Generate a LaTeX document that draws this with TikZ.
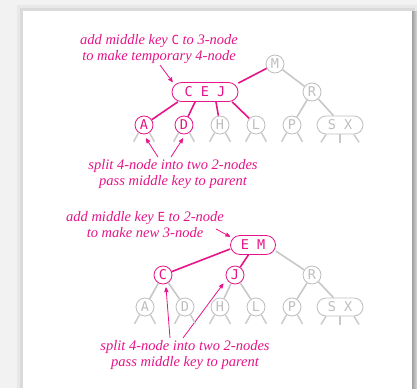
\documentclass[tikz,border=0pt]{standalone}
\usepackage{fontspec}
\newfontfamily\keyfont{DejaVu Sans Mono}
\newfontfamily\notefont{Liberation Serif}
\usetikzlibrary{shapes}
\usetikzlibrary{arrows}
\usetikzlibrary{calc}
\definecolor{keypink}{RGB}{230,20,135}
\definecolor{keygray}{RGB}{190,190,190}
\definecolor{linegray}{RGB}{200,200,200}
\definecolor{bggray}{RGB}{242,242,242}
\tikzset{
	key/.style = {align=center, inner sep=0pt, text centered, fill=white,
		font=\keyfont\fontsize{13.5}{14}\selectfont},
	key_p/.style = {key, circle, keypink, fill=white, draw=keypink,
		minimum size=18pt, thick},% 2-node, rose
	key_g/.style = {key, circle, keygray, fill=white, draw=keygray,
		minimum size=18pt, thick},% 2-node, gris
	keys_p/.style = {key, rectangle, rounded corners=9.5pt, keypink, fill=white,
		draw=keypink, minimum height=19pt, thick},% 3-node / 4-node, rose
	keys_g/.style = {key, rectangle, rounded corners=9pt, keygray, fill=white,
		draw=keygray, minimum height=18pt, minimum width=46pt, thick},% 3-node, gris
	link_p/.style = {draw=keypink, line width=1.6pt},
	link_g/.style = {draw=linegray, line width=1.6pt},
	stub/.style = {draw=linegray, line width=1.4pt},
	note/.style = {align=center, keypink, font=\notefont\itshape\fontsize{14.5}{16}\selectfont},
	note_arr/.style = {->, >=stealth', draw=keypink, line width=0.8pt}
}
\newcommand{\kk}[1]{{\keyfont\upshape\fontsize{12.5}{16}\selectfont #1}}

\begin{document}
\begin{tikzpicture}[x=1pt,y=-1pt]
	\useasboundingbox (0,0) rectangle (417,388);
	% page
	\fill[bggray] (0,0) rectangle (417,388);
	\fill[black, opacity=0.04] (17,5) rectangle (417,388);
	\fill[black, opacity=0.06] (20,8) rectangle (415,388);
	\fill[white] (23,11) rectangle (412,388);
	\shade[left color=gray!75, right color=gray!30] (412,11) rectangle (417,388);

	% insert C into the 3-node
	\node [key_g] (m) at (275,64) {M};
	\node [keys_p, minimum width=66pt] (cej) at (205,92) {C E J};
	\node [key_g] (r) at (312,92) {R};
	\node [key_p] (a) at (144,125) {A};
	\node [key_p] (d) at (184,125) {D};
	\node [key_g] (h) at (220,125) {H};
	\node [key_g] (l) at (256,125) {L};
	\node [key_g] (p) at (292,125) {P};
	\node [keys_g] (sx) at (340,125) {S X};

	\draw [link_p] (m) -- (cej.15);
	\draw [link_g] (m) -- (r);
	\draw [link_g] (r) -- (p);
	\draw [link_g] (r) -- (sx.125);
	\draw [link_p] (cej.200) -- (a);
	\draw [link_p] (cej.225) -- (d);
	\draw [link_p] (cej.318) -- (h);
	\draw [link_p] (cej.340) -- (l);

	\node [note] (addC) at (159,49) {add middle key \kk{C} to 3-node\\to make temporary 4-node};
	\node [note] (split1) at (173,174) {split 4-node into two 2-nodes\\pass middle key to parent};
	\coordinate (c_tail) at (160,65);
	\coordinate (a_tail) at (158,157);
	\coordinate (d_tail) at (171,157);
	\draw [note_arr] (c_tail) -- (cej.163);
	\draw [note_arr] (a_tail) -- ($(a.south)+(2,4)$);
	\draw [note_arr] (d_tail) -- ($(d.south)+(-1,4)$);

	% E goes up into the 2-node
	\node [keys_p, minimum width=45pt] (em) at (253,245) {E M};
	\node [key_p] (c) at (163,275) {C};
	\node [key_p] (j) at (235,275) {J};
	\node [key_g] (r2) at (312,275) {R};
	\node [key_g] (a2) at (145,307) {A};
	\node [key_g] (d2) at (185,307) {D};
	\node [key_g] (h2) at (220,307) {H};
	\node [key_g] (l2) at (256,307) {L};
	\node [key_g] (p2) at (292,307) {P};
	\node [keys_g] (sx2) at (340,307) {S X};

	\draw [link_p] (em.190) -- (c);
	\draw [link_p] (em.245) -- (j);
	\draw [link_g] (em.345) -- (r2);
	\draw [link_g] (c) -- (a2);
	\draw [link_g] (c) -- (d2);
	\draw [link_g] (j) -- (h2);
	\draw [link_g] (j) -- (l2);
	\draw [link_g] (r2) -- (p2);
	\draw [link_g] (r2) -- (sx2.125);

	\node [note] (addE) at (145,224.5) {add middle key \kk{E} to 2-node\\to make new 3-node};
	\node [note] (split2) at (185,355.5) {split 4-node into two 2-nodes\\pass middle key to parent};
	\coordinate (e_tail) at (216,229);
	\coordinate (c2_tail) at (170,338);
	\coordinate (j2_tail) at (183,338);
	\draw [note_arr] (e_tail) -- (em.160);
	\draw [note_arr] (c2_tail) -- ($(c.south)+(3,3)$);
	\draw [note_arr] (j2_tail) -- ($(j.225)+(-5,2)$);

	% links below the bottom keys
	\foreach \n in {a,d,h,l,p,a2,d2,h2,l2,p2} {
		\draw [stub] (\n.235) -- ++(-5,9);
		\draw [stub] (\n.305) -- ++(5,9);
	}
	\foreach \n in {sx,sx2} {
		\draw [stub] ($(\n.south)+(-14,0)$) -- ++(-5,8);
		\draw [stub] (\n.south) -- ++(0,9);
		\draw [stub] ($(\n.south)+(14,0)$) -- ++(5,8);
	}
\end{tikzpicture}
\end{document}
